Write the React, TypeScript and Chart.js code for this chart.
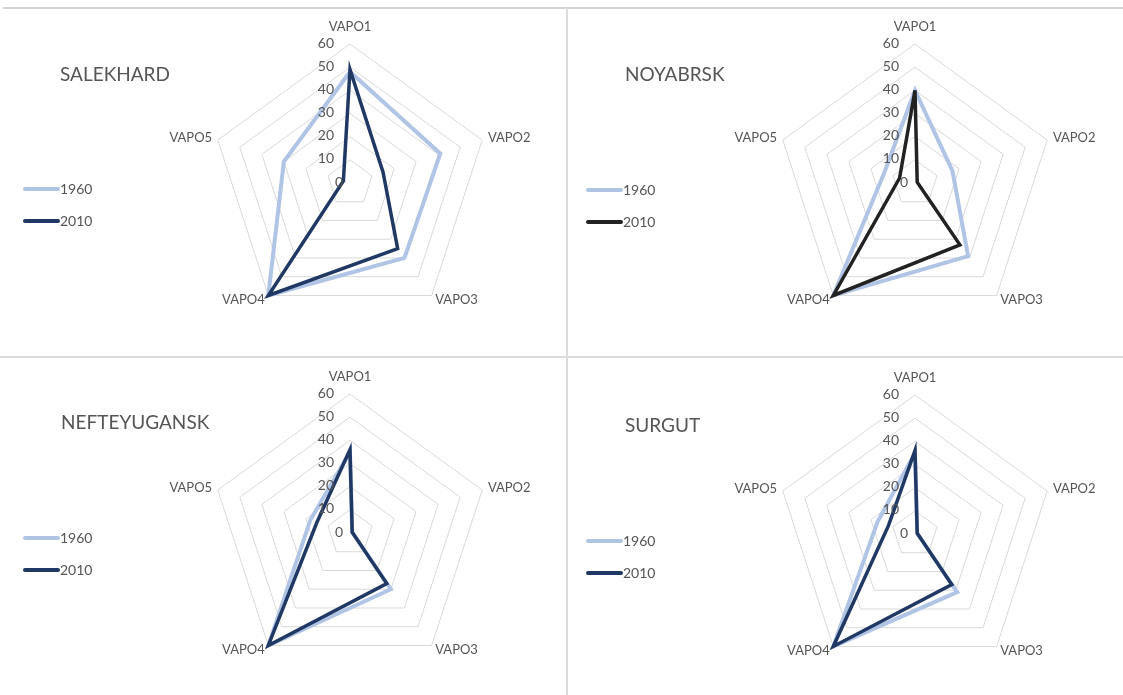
import React, { useEffect, useRef } from "react";
import { Chart, registerables } from "chart.js";

Chart.register(...registerables);

const categories = ["VAPO1", "VAPO2", "VAPO3", "VAPO4", "VAPO5"];
const tickValues = [0, 10, 20, 30, 40, 50, 60];
const seriesNames = ["1960", "2010"];

const salekhard1960 = [48, 41, 40, 60, 30];
const salekhard2010 = [49, 15, 35, 60, 3];
const noyabrsk1960 = [40, 17, 39, 60, 14];
const noyabrsk2010 = [40, 1, 33, 60, 7];
const nefteyugansk1960 = [35, 1, 30, 60, 18];
const nefteyugansk2010 = [36, 1, 27, 60, 15];
const surgut1960 = [35, 1, 31, 60, 17];
const surgut2010 = [36, 1, 27, 60, 12];

const FONT = "Lato, 'Open Sans', sans-serif";
const TEXT = "#555555";
const LIGHT = "#b0c4e6";
const NAVY = "#203864";
const BLACK = "#222222";

type PanelProps = {
  title: string;
  d1960: number[];
  d2010: number[];
  darkColor: string;
  left: number;
  top: number;
  width: number;
  height: number;
  cx: number;
  cy: number;
  titleX: number;
  titleY: number;
  legendX: number;
  legendY: number;
};

function RadarPanel(p: PanelProps) {
  const ref = useRef<HTMLCanvasElement>(null);
  useEffect(() => {
    if (!ref.current) return;
    const R = 139;
    const overlay = {
      id: "overlay",
      afterDraw(chart: any) {
        const ctx = chart.ctx;
        const s = chart.scales.r;
        ctx.save();
        ctx.fillStyle = TEXT;
        ctx.textBaseline = "middle";
        // tick labels
        ctx.font = `14px ${FONT}`;
        ctx.textAlign = "right";
        tickValues.forEach((v) => {
          const d = s.getDistanceFromCenterForValue(v);
          const lbl = String(v);
          const off = lbl.length > 1 ? 16 : 7;
          ctx.fillText(lbl, s.xCenter - off, s.yCenter - d - 1);
        });
        // point labels
        ctx.font = `13px ${FONT}`;
        categories.forEach((c, i) => {
          const pos = s.getPointPosition(i, s.drawingArea + 6);
          if (i === 0) {
            ctx.textAlign = "center";
            ctx.fillText(c, pos.x, pos.y - 11);
          } else if (pos.x > s.xCenter) {
            ctx.textAlign = "left";
            ctx.fillText(c, pos.x, pos.y);
          } else {
            ctx.textAlign = "right";
            ctx.fillText(c, pos.x, pos.y);
          }
        });
        // title
        ctx.font = `19px ${FONT}`;
        ctx.textAlign = "left";
        ctx.fillText(p.title, p.titleX, p.titleY);
        // legend
        const colors = [LIGHT, p.darkColor];
        seriesNames.forEach((n, i) => {
          const y = p.legendY + i * 32;
          ctx.strokeStyle = colors[i];
          ctx.lineWidth = 4;
          ctx.lineCap = "round";
          ctx.beginPath();
          ctx.moveTo(p.legendX, y);
          ctx.lineTo(p.legendX + 33, y);
          ctx.stroke();
          ctx.font = `14px ${FONT}`;
          ctx.fillStyle = TEXT;
          ctx.textAlign = "left";
          ctx.fillText(n, p.legendX + 35, y);
        });
        ctx.restore();
      },
    };
    const chart = new Chart(ref.current, {
      type: "radar",
      data: {
        labels: categories,
        datasets: [
          {
            label: seriesNames[0],
            data: p.d1960,
            borderColor: LIGHT,
            borderWidth: 4,
            fill: false,
            pointRadius: 0,
            borderJoinStyle: "miter",
            order: 1,
          },
          {
            label: seriesNames[1],
            data: p.d2010,
            borderColor: p.darkColor,
            borderWidth: 3.5,
            fill: false,
            pointRadius: 0,
            borderJoinStyle: "miter",
            order: 0,
          },
        ],
      },
      options: {
        responsive: false,
        animation: false,
        devicePixelRatio: 1,
        plugins: { legend: { display: false }, tooltip: { enabled: false } },
        elements: { line: { tension: 0 } },
        scales: {
          r: {
            min: 0,
            max: 60,
            ticks: { stepSize: 10, display: false },
            grid: { color: "#d9d9d9", lineWidth: 1 },
            angleLines: { display: false },
            pointLabels: { display: false },
            afterFit: (s: any) => {
              s.xCenter = p.cx;
              s.yCenter = p.cy;
              s.drawingArea = R;
            },
          },
        },
      } as any,
      plugins: [overlay],
    });
    return () => chart.destroy();
  }, []);
  return (
    <canvas
      ref={ref}
      width={p.width}
      height={p.height}
      style={{ position: "absolute", left: p.left, top: p.top, width: p.width, height: p.height }}
    />
  );
}

export default function App() {
  return (
    <div style={{ position: "fixed", left: 0, top: 0, width: 1123, height: 695, background: "#fff", overflow: "hidden" }}>
      <RadarPanel title="SALEKHARD" d1960={salekhard1960} d2010={salekhard2010} darkColor={NAVY}
        left={0} top={8} width={567} height={349} cx={350} cy={175} titleX={60} titleY={67} legendX={25} legendY={181} />
      <RadarPanel title="NOYABRSK" d1960={noyabrsk1960} d2010={noyabrsk2010} darkColor={BLACK}
        left={567} top={8} width={556} height={349} cx={348} cy={175} titleX={58} titleY={67} legendX={21} legendY={182} />
      <RadarPanel title="NEFTEYUGANSK" d1960={nefteyugansk1960} d2010={nefteyugansk2010} darkColor={NAVY}
        left={0} top={357} width={567} height={338} cx={350} cy={176} titleX={61} titleY={66} legendX={25} legendY={181} />
      <RadarPanel title="SURGUT" d1960={surgut1960} d2010={surgut2010} darkColor={NAVY}
        left={567} top={357} width={556} height={338} cx={348} cy={177} titleX={58} titleY={69} legendX={21} legendY={184} />
      <div style={{ position: "absolute", left: 3, top: 7, width: 1120, height: 2, background: "#d4d4d4" }} />
      <div style={{ position: "absolute", left: 0, top: 356, width: 1123, height: 2, background: "#dcdcdc" }} />
      <div style={{ position: "absolute", left: 566, top: 8, width: 2, height: 687, background: "#dcdcdc" }} />
    </div>
  );
}
